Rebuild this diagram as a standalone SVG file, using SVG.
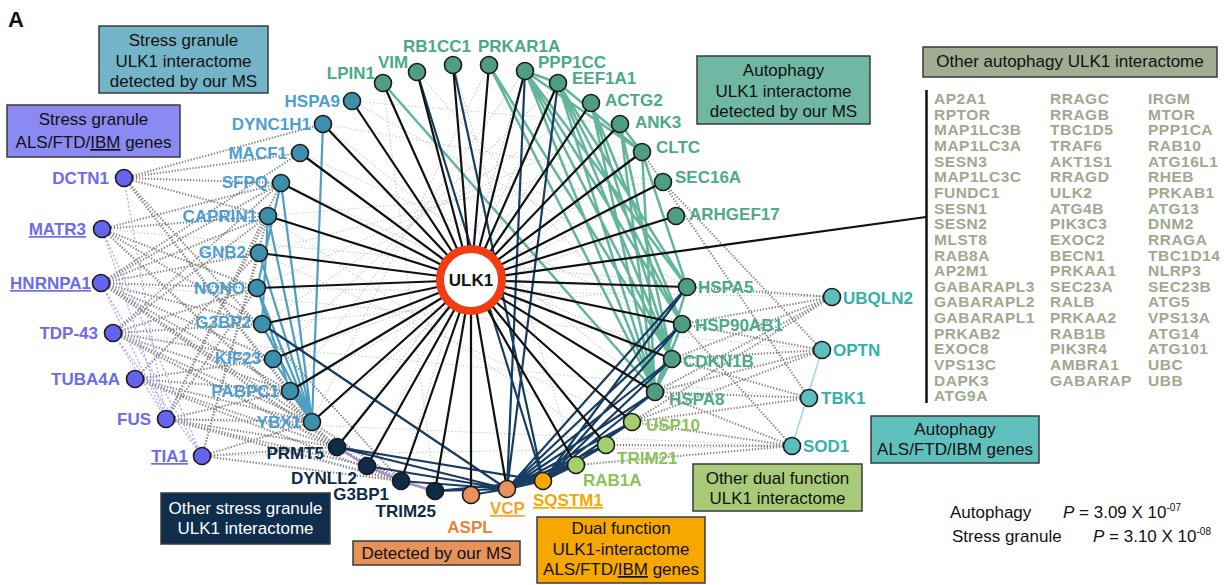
<svg xmlns="http://www.w3.org/2000/svg" width="1225" height="585" viewBox="0 0 1225 585">
<style>
text{font-family:"Liberation Sans",Arial,sans-serif}
.lb{font-size:17px;font-weight:bold}
.bx{font-size:17px;fill:#111;text-anchor:middle}
.box{stroke:#3a3a3a;stroke-width:1.5}
.n{stroke:#1a1a1a;stroke-width:1.6}
.blk{stroke:#111;stroke-width:2.2;fill:none}
.nav{stroke:#173d63;stroke-width:2.2;fill:none}
.sgm{stroke:#4e9fc1;stroke-width:2.2;fill:none}
.aum{stroke:#63b59c;stroke-width:2.5;fill:none}
.gd{stroke:#858585;stroke-width:2.1;stroke-dasharray:1.3 1.7;fill:none}
.gf{stroke:#cdcdcd;stroke-width:1.1;stroke-dasharray:1.5 2;fill:none}
.pd{stroke:#a9a9f6;stroke-width:1.3;stroke-dasharray:2 2;fill:none}
.sg{fill:#3d8fae}.sgt{fill:#4d9fd0}
.au{fill:#4f9e84}.aut{fill:#4aaa89}
.nv{fill:#0e2b47}
.pu{fill:#6464ee}.put{fill:#6b6bf0}
.ta{fill:#5bbfbb}.tat{fill:#34b1ad}
.lg{fill:#a5cf6e}.lgt{fill:#8dc15a}
.li{font-size:15.5px;font-weight:bold;fill:#9ea98e;letter-spacing:0.5px}
</style>

<text x="8" y="27" style="font-size:22px;font-weight:bold" fill="#111">A</text>

<g id="connectors">
<path class="gf" d="M352 101L687 287M323 124L655 392M300 153L682 324M281 183L672 359M268 216L606 445M259 253L632 422M257 288L832 297M262 324L687 287M273 359L676 216M290 391L663 182M312 422L642 152M337 447L591 103M367 466L558 83M401 481L525 71M435 491L383 83M417 72L672 359M453 65L576 465M489 65L312 422M525 71L290 391M558 83L273 359M591 103L262 324M620 124L257 288M642 152L259 253M663 182L268 216M792 446L166 419M809 398L113 333M822 350L101 283M832 297L102 229M792 446L202 456M352 101L620 124M323 124L663 182"/>
<path class="gd" d="M124 178L300 153M124 178L281 183M124 178L323 124M124 178L268 216M124 178L290 391M124 178L312 422M124 178L401 481M102 229L281 183M102 229L268 216M102 229L257 288M102 229L262 324M102 229L312 422M102 229L337 447M101 283L268 216M101 283L259 253M101 283L257 288M101 283L262 324M101 283L273 359M101 283L290 391M101 283L312 422M101 283L337 447M101 283L367 466M101 283L401 481M101 283L300 153M101 283L281 183M113 333L281 183M113 333L257 288M113 333L262 324M113 333L273 359M113 333L290 391M113 333L312 422M113 333L337 447M113 333L401 481M113 333L268 216M135 379L290 391M135 379L312 422M135 379L337 447M135 379L273 359M135 379L259 253M135 379L401 481M166 419L312 422M166 419L337 447M166 419L367 466M166 419L281 183M166 419L268 216M166 419L257 288M166 419L401 481M166 419L435 491M166 419L290 391M202 456L337 447M202 456L312 422M202 456L401 481M202 456L259 253M202 456L268 216M832 297L687 287M832 297L682 324M832 297L672 359M832 297L655 392M832 297L632 422M822 350L682 324M822 350L672 359M822 350L655 392M822 350L632 422M822 350L663 182M809 398L655 392M809 398L632 422M809 398L672 359M809 398L642 152M792 446L655 392M792 446L632 422M792 446L606 445M792 446L576 465M792 446L682 324"/>
<path class="pd" d="M124 178L166 419M102 229L202 456M102 229L166 419M101 283L166 419M101 283L202 456M113 333L166 419M113 333L202 456"/>
<path d="M822 350L792 446" stroke="#9edbd8" stroke-width="1.5" fill="none"/>
<path d="M337 447L367 466L401 481L435 491" stroke="#a98fd2" stroke-width="2.5" fill="none"/>
<path class="sgm" d="M323 124L312 422M281 183L312 422M268 216L312 422M259 253L312 422M257 288L312 422M262 324L312 422M273 359L312 422M290 391L312 422M281 183L257 288M268 216L262 324M257 288L290 391"/>
<path class="aum" d="M383 83L655 392M489 65L655 392M489 65L672 359M525 71L687 287M525 71L682 324M525 71L672 359M525 71L655 392M525 71L558 83M525 71L642 152M558 83L687 287M558 83L682 324M558 83L672 359M558 83L655 392M558 83L642 152M591 103L682 324M591 103L672 359M591 103L655 392M620 124L655 392M620 124L672 359M620 124L642 152M642 152L655 392M642 152L687 287M687 287L655 392M682 324L655 392M672 359L655 392"/>
<path class="nav" d="M507 489L687 287M507 489L682 324M507 489L672 359M507 489L655 392M507 489L632 422M507 489L606 445M507 489L576 465M543 481L687 287M543 481L682 324M543 481L672 359M543 481L655 392M543 481L632 422M543 481L606 445M543 481L576 465M453 65L543 481M417 72L543 481M525 71L507 489M558 83L507 489M262 324L507 489M337 447L507 489M337 447L543 481M367 466L507 489M401 481L507 489M435 491L507 489M435 491L543 481M471 495L507 489M507 489L543 481"/>
<path class="blk" d="M471 280L352 101M471 280L323 124M471 280L300 153M471 280L281 183M471 280L268 216M471 280L259 253M471 280L257 288M471 280L262 324M471 280L273 359M471 280L290 391M471 280L312 422M471 280L337 447M471 280L367 466M471 280L401 481M471 280L435 491M471 280L471 495M471 280L507 489M471 280L576 465M471 280L606 445M471 280L632 422M471 280L655 392M471 280L672 359M471 280L682 324M471 280L687 287M471 280L676 216M471 280L663 182M471 280L642 152M471 280L620 124M471 280L591 103M471 280L558 83M471 280L525 71M471 280L489 65M471 280L453 65M471 280L417 72M471 280L383 83M471 280L926 217"/>
<line x1="926.5" y1="90" x2="926.5" y2="403" stroke="#111" stroke-width="2.5"/>
</g>

<!-- Stress granule MS nodes -->
<g id="HSPA9"><circle class="n sg" cx="352" cy="101" r="8.5"/><text class="lb sgt" x="340" y="107" text-anchor="end">HSPA9</text></g>
<g id="DYNC1H1"><circle class="n sg" cx="323" cy="124" r="8.5"/><text class="lb sgt" x="311" y="130" text-anchor="end">DYNC1H1</text></g>
<g id="MACF1"><circle class="n sg" cx="300" cy="153" r="8.5"/><text class="lb sgt" x="287" y="159" text-anchor="end">MACF1</text></g>
<g id="SFPQ"><circle class="n sg" cx="281" cy="183" r="8.5"/><text class="lb sgt" x="268" y="188" text-anchor="end">SFPQ</text></g>
<g id="CAPRIN1"><circle class="n sg" cx="268" cy="216" r="8.5"/><text class="lb sgt" x="257" y="222" text-anchor="end">CAPRIN1</text></g>
<g id="GNB2"><circle class="n sg" cx="259" cy="253" r="8.5"/><text class="lb sgt" x="246" y="258" text-anchor="end">GNB2</text></g>
<g id="NONO"><circle class="n sg" cx="257" cy="288" r="8.5"/><text class="lb sgt" x="245" y="294" text-anchor="end">NONO</text></g>
<g id="G3BP2"><circle class="n sg" cx="262" cy="324" r="8.5"/><text class="lb sgt" x="251" y="328" text-anchor="end">G3BP2</text></g>
<g id="KIF23"><circle class="n sg" cx="273" cy="359" r="8.5"/><text class="lb sgt" x="261" y="364" text-anchor="end">KIF23</text></g>
<g id="PABPC1"><circle class="n sg" cx="290" cy="391" r="8.5"/><text class="lb sgt" x="279" y="397" text-anchor="end">PABPC1</text></g>
<g id="YBX1"><circle class="n sg" cx="312" cy="422" r="8.5"/><text class="lb sgt" x="301" y="428" text-anchor="end">YBX1</text></g>

<!-- Other stress granule -->
<g id="PRMT5"><circle class="n nv" cx="337" cy="447" r="8.5"/><text class="lb nv" x="324" y="459" text-anchor="end">PRMT5</text></g>
<g id="DYNLL2"><circle class="n nv" cx="367" cy="466" r="8.5"/><text class="lb nv" x="357" y="484" text-anchor="end">DYNLL2</text></g>
<g id="G3BP1"><circle class="n nv" cx="401" cy="481" r="8.5"/><text class="lb nv" x="389" y="500" text-anchor="end">G3BP1</text></g>
<g id="TRIM25"><circle class="n nv" cx="435" cy="491" r="8.5"/><text class="lb nv" x="436" y="517" text-anchor="end">TRIM25</text></g>

<!-- MS / dual -->
<g id="ASPL"><circle class="n" cx="471" cy="495" r="8.5" fill="#e8915a"/><text class="lb" x="470" y="533" text-anchor="middle" fill="#e8823c">ASPL</text></g>
<g id="VCP"><circle class="n" cx="507" cy="489" r="8.5" fill="#e8915a"/><text class="lb" x="490" y="514" fill="#f5a623" text-decoration="underline">VCP</text></g>
<g id="SQSTM1"><circle class="n" cx="543" cy="481" r="8.5" fill="#f5a800"/><text class="lb" x="533" y="506" fill="#f5a800" text-decoration="underline">SQSTM1</text></g>

<!-- Other dual function -->
<g id="RAB1A"><circle class="n lg" cx="576" cy="465" r="8.5"/><text class="lb lgt" x="583" y="486">RAB1A</text></g>
<g id="TRIM21"><circle class="n lg" cx="606" cy="445" r="8.5"/><text class="lb lgt" x="617" y="464">TRIM21</text></g>
<g id="USP10"><circle class="n lg" cx="632" cy="422" r="8.5"/><text class="lb lgt" x="646" y="431">USP10</text></g>

<!-- Autophagy MS nodes -->
<g id="LPIN1"><circle class="n au" cx="383" cy="83" r="8.5"/><text class="lb aut" x="375" y="79" text-anchor="end">LPIN1</text></g>
<g id="VIM"><circle class="n au" cx="417" cy="72" r="8.5"/><text class="lb aut" x="393" y="68" text-anchor="middle">VIM</text></g>
<g id="RB1CC1"><circle class="n au" cx="453" cy="65" r="8.5"/><text class="lb aut" x="437" y="52" text-anchor="middle">RB1CC1</text></g>
<g id="PRKAR1A"><circle class="n au" cx="489" cy="65" r="8.5"/><text class="lb aut" x="478" y="52">PRKAR1A</text></g>
<g id="PPP1CC"><circle class="n au" cx="525" cy="71" r="8.5"/><text class="lb aut" x="538" y="68">PPP1CC</text></g>
<g id="EEF1A1"><circle class="n au" cx="558" cy="83" r="8.5"/><text class="lb aut" x="572" y="84">EEF1A1</text></g>
<g id="ACTG2"><circle class="n au" cx="591" cy="103" r="8.5"/><text class="lb aut" x="605" y="106">ACTG2</text></g>
<g id="ANK3"><circle class="n au" cx="620" cy="124" r="8.5"/><text class="lb aut" x="635" y="128">ANK3</text></g>
<g id="CLTC"><circle class="n au" cx="642" cy="152" r="8.5"/><text class="lb aut" x="656" y="153">CLTC</text></g>
<g id="SEC16A"><circle class="n au" cx="663" cy="182" r="8.5"/><text class="lb aut" x="675" y="183">SEC16A</text></g>
<g id="ARHGEF17"><circle class="n au" cx="676" cy="216" r="8.5"/><text class="lb aut" x="689" y="220">ARHGEF17</text></g>
<g id="HSPA5"><circle class="n au" cx="687" cy="287" r="8.5"/><text class="lb aut" x="698" y="293">HSPA5</text></g>
<g id="HSP90AB1"><circle class="n au" cx="682" cy="324" r="8.5"/><text class="lb aut" x="695" y="331">HSP90AB1</text></g>
<g id="CDKN1B"><circle class="n au" cx="672" cy="359" r="8.5"/><text class="lb aut" x="683" y="367">CDKN1B</text></g>
<g id="HSPA8"><circle class="n au" cx="655" cy="392" r="8.5"/><text class="lb aut" x="669" y="405">HSPA8</text></g>

<!-- Autophagy ALS -->
<g id="UBQLN2"><circle class="n ta" cx="832" cy="297" r="8.5"/><text class="lb tat" x="843" y="304">UBQLN2</text></g>
<g id="OPTN"><circle class="n ta" cx="822" cy="350" r="8.5"/><text class="lb tat" x="833" y="356">OPTN</text></g>
<g id="TBK1"><circle class="n ta" cx="809" cy="398" r="8.5"/><text class="lb tat" x="821" y="404">TBK1</text></g>
<g id="SOD1"><circle class="n ta" cx="792" cy="446" r="8.5"/><text class="lb tat" x="803" y="452">SOD1</text></g>

<!-- Stress granule ALS -->
<g id="DCTN1"><circle class="n pu" cx="124" cy="178" r="8.5"/><text class="lb put" x="109" y="184" text-anchor="end">DCTN1</text></g>
<g id="MATR3"><circle class="n pu" cx="102" cy="229" r="8.5"/><text class="lb put" x="86" y="235" text-anchor="end" text-decoration="underline">MATR3</text></g>
<g id="HNRNPA1"><circle class="n pu" cx="101" cy="283" r="8.5"/><text class="lb put" x="91" y="289" text-anchor="end" text-decoration="underline">HNRNPA1</text></g>
<g id="TDP-43"><circle class="n pu" cx="113" cy="333" r="8.5"/><text class="lb put" x="98" y="339" text-anchor="end">TDP-43</text></g>
<g id="TUBA4A"><circle class="n pu" cx="135" cy="379" r="8.5"/><text class="lb put" x="120" y="385" text-anchor="end">TUBA4A</text></g>
<g id="FUS"><circle class="n pu" cx="166" cy="419" r="8.5"/><text class="lb put" x="151" y="425" text-anchor="end">FUS</text></g>
<g id="TIA1"><circle class="n pu" cx="202" cy="456" r="8.5"/><text class="lb put" x="188" y="462" text-anchor="end" text-decoration="underline">TIA1</text></g>

<!-- ULK1 -->
<g id="ULK1"><circle cx="471" cy="280" r="31" fill="#fff" stroke="#f23c12" stroke-width="8"/><text class="lb" x="471" y="286" text-anchor="middle" fill="#111">ULK1</text></g>

<!-- Legend boxes -->
<g id="box-sg-ms"><rect class="box" x="99" y="26" width="169" height="67" fill="#74b4c8"/><text class="bx" x="183.5" y="46">Stress granule</text><text class="bx" x="183.5" y="67">ULK1 interactome</text><text class="bx" x="183.5" y="87">detected by our MS</text></g>
<g id="box-sg-als"><rect class="box" x="7" y="105" width="173" height="52" fill="#8a8af2"/><text class="bx" x="93.5" y="125">Stress granule</text><text class="bx" x="93.5" y="148">ALS/FTD/<tspan text-decoration="underline">IBM</tspan> genes</text></g>
<g id="box-au-ms"><rect class="box" x="697" y="56" width="173" height="68" fill="#70b8a4"/><text class="bx" x="783.5" y="76">Autophagy</text><text class="bx" x="783.5" y="97">ULK1 interactome</text><text class="bx" x="783.5" y="117">detected by our MS</text></g>
<g id="box-other-au"><rect class="box" x="923" y="47" width="294" height="30" fill="#a2ac92"/><text class="bx" x="1070" y="67">Other autophagy ULK1 interactome</text></g>
<g id="box-au-als"><rect class="box" x="871" y="416" width="168" height="47" fill="#5fc0bd"/><text class="bx" x="955" y="435">Autophagy</text><text class="bx" x="955" y="455">ALS/FTD/IBM genes</text></g>
<g id="box-other-dual"><rect class="box" x="693" y="464" width="169" height="47" fill="#a8cb7a"/><text class="bx" x="777.5" y="484">Other dual function</text><text class="bx" x="777.5" y="504">ULK1 interactome</text></g>
<g id="box-dual"><rect class="box" x="537" y="517" width="168" height="66" fill="#f6a800"/><text class="bx" x="621" y="534">Dual function</text><text class="bx" x="621" y="555">ULK1-interactome</text><text class="bx" x="621" y="575">ALS/FTD/<tspan text-decoration="underline">IBM</tspan> genes</text></g>
<g id="box-detected"><rect class="box" x="353" y="541" width="167" height="24" fill="#e6925a"/><text class="bx" x="436.5" y="559">Detected by our MS</text></g>
<g id="box-other-sg"><rect class="box" x="161" y="493" width="169" height="51" fill="#0f2e4d"/><text class="bx" x="245.5" y="514" style="fill:#fff">Other stress granule</text><text class="bx" x="245.5" y="534" style="fill:#fff">ULK1 interactome</text></g>

<!-- Other autophagy list -->
<g id="autophagy-list" class="li">
<text x="934" y="104">AP2A1</text><text x="934" y="119.6">RPTOR</text><text x="934" y="135.3">MAP1LC3B</text><text x="934" y="150.9">MAP1LC3A</text><text x="934" y="166.6">SESN3</text><text x="934" y="182.2">MAP1LC3C</text><text x="934" y="197.9">FUNDC1</text><text x="934" y="213.5">SESN1</text><text x="934" y="229.2">SESN2</text><text x="934" y="244.8">MLST8</text><text x="934" y="260.5">RAB8A</text><text x="934" y="276.1">AP2M1</text><text x="934" y="291.8">GABARAPL3</text><text x="934" y="307.4">GABARAPL2</text><text x="934" y="323.1">GABARAPL1</text><text x="934" y="338.7">PRKAB2</text><text x="934" y="354.4">EXOC8</text><text x="934" y="370">VPS13C</text><text x="934" y="385.7">DAPK3</text><text x="934" y="401.3">ATG9A</text>
<text x="1050" y="104">RRAGC</text><text x="1050" y="119.6">RRAGB</text><text x="1050" y="135.3">TBC1D5</text><text x="1050" y="150.9">TRAF6</text><text x="1050" y="166.6">AKT1S1</text><text x="1050" y="182.2">RRAGD</text><text x="1050" y="197.9">ULK2</text><text x="1050" y="213.5">ATG4B</text><text x="1050" y="229.2">PIK3C3</text><text x="1050" y="244.8">EXOC2</text><text x="1050" y="260.5">BECN1</text><text x="1050" y="276.1">PRKAA1</text><text x="1050" y="291.8">SEC23A</text><text x="1050" y="307.4">RALB</text><text x="1050" y="323.1">PRKAA2</text><text x="1050" y="338.7">RAB1B</text><text x="1050" y="354.4">PIK3R4</text><text x="1050" y="370">AMBRA1</text><text x="1050" y="385.7">GABARAP</text>
<text x="1148" y="104">IRGM</text><text x="1148" y="119.6">MTOR</text><text x="1148" y="135.3">PPP1CA</text><text x="1148" y="150.9">RAB10</text><text x="1148" y="166.6">ATG16L1</text><text x="1148" y="182.2">RHEB</text><text x="1148" y="197.9">PRKAB1</text><text x="1148" y="213.5">ATG13</text><text x="1148" y="229.2">DNM2</text><text x="1148" y="244.8">RRAGA</text><text x="1148" y="260.5">TBC1D14</text><text x="1148" y="276.1">NLRP3</text><text x="1148" y="291.8">SEC23B</text><text x="1148" y="307.4">ATG5</text><text x="1148" y="323.1">VPS13A</text><text x="1148" y="338.7">ATG14</text><text x="1148" y="354.4">ATG101</text><text x="1148" y="370">UBC</text><text x="1148" y="385.7">UBB</text>
</g>

<!-- P values -->
<g id="pvalues" style="font-size:17px" fill="#111">
<text x="950" y="518">Autophagy</text>
<text x="1063" y="518"><tspan font-style="italic">P</tspan> = 3.09 X 10<tspan font-size="10" dy="-7">-07</tspan></text>
<text x="952" y="542">Stress granule</text>
<text x="1093" y="542"><tspan font-style="italic">P</tspan> = 3.10 X 10<tspan font-size="10" dy="-7">-08</tspan></text>
</g>
</svg>
